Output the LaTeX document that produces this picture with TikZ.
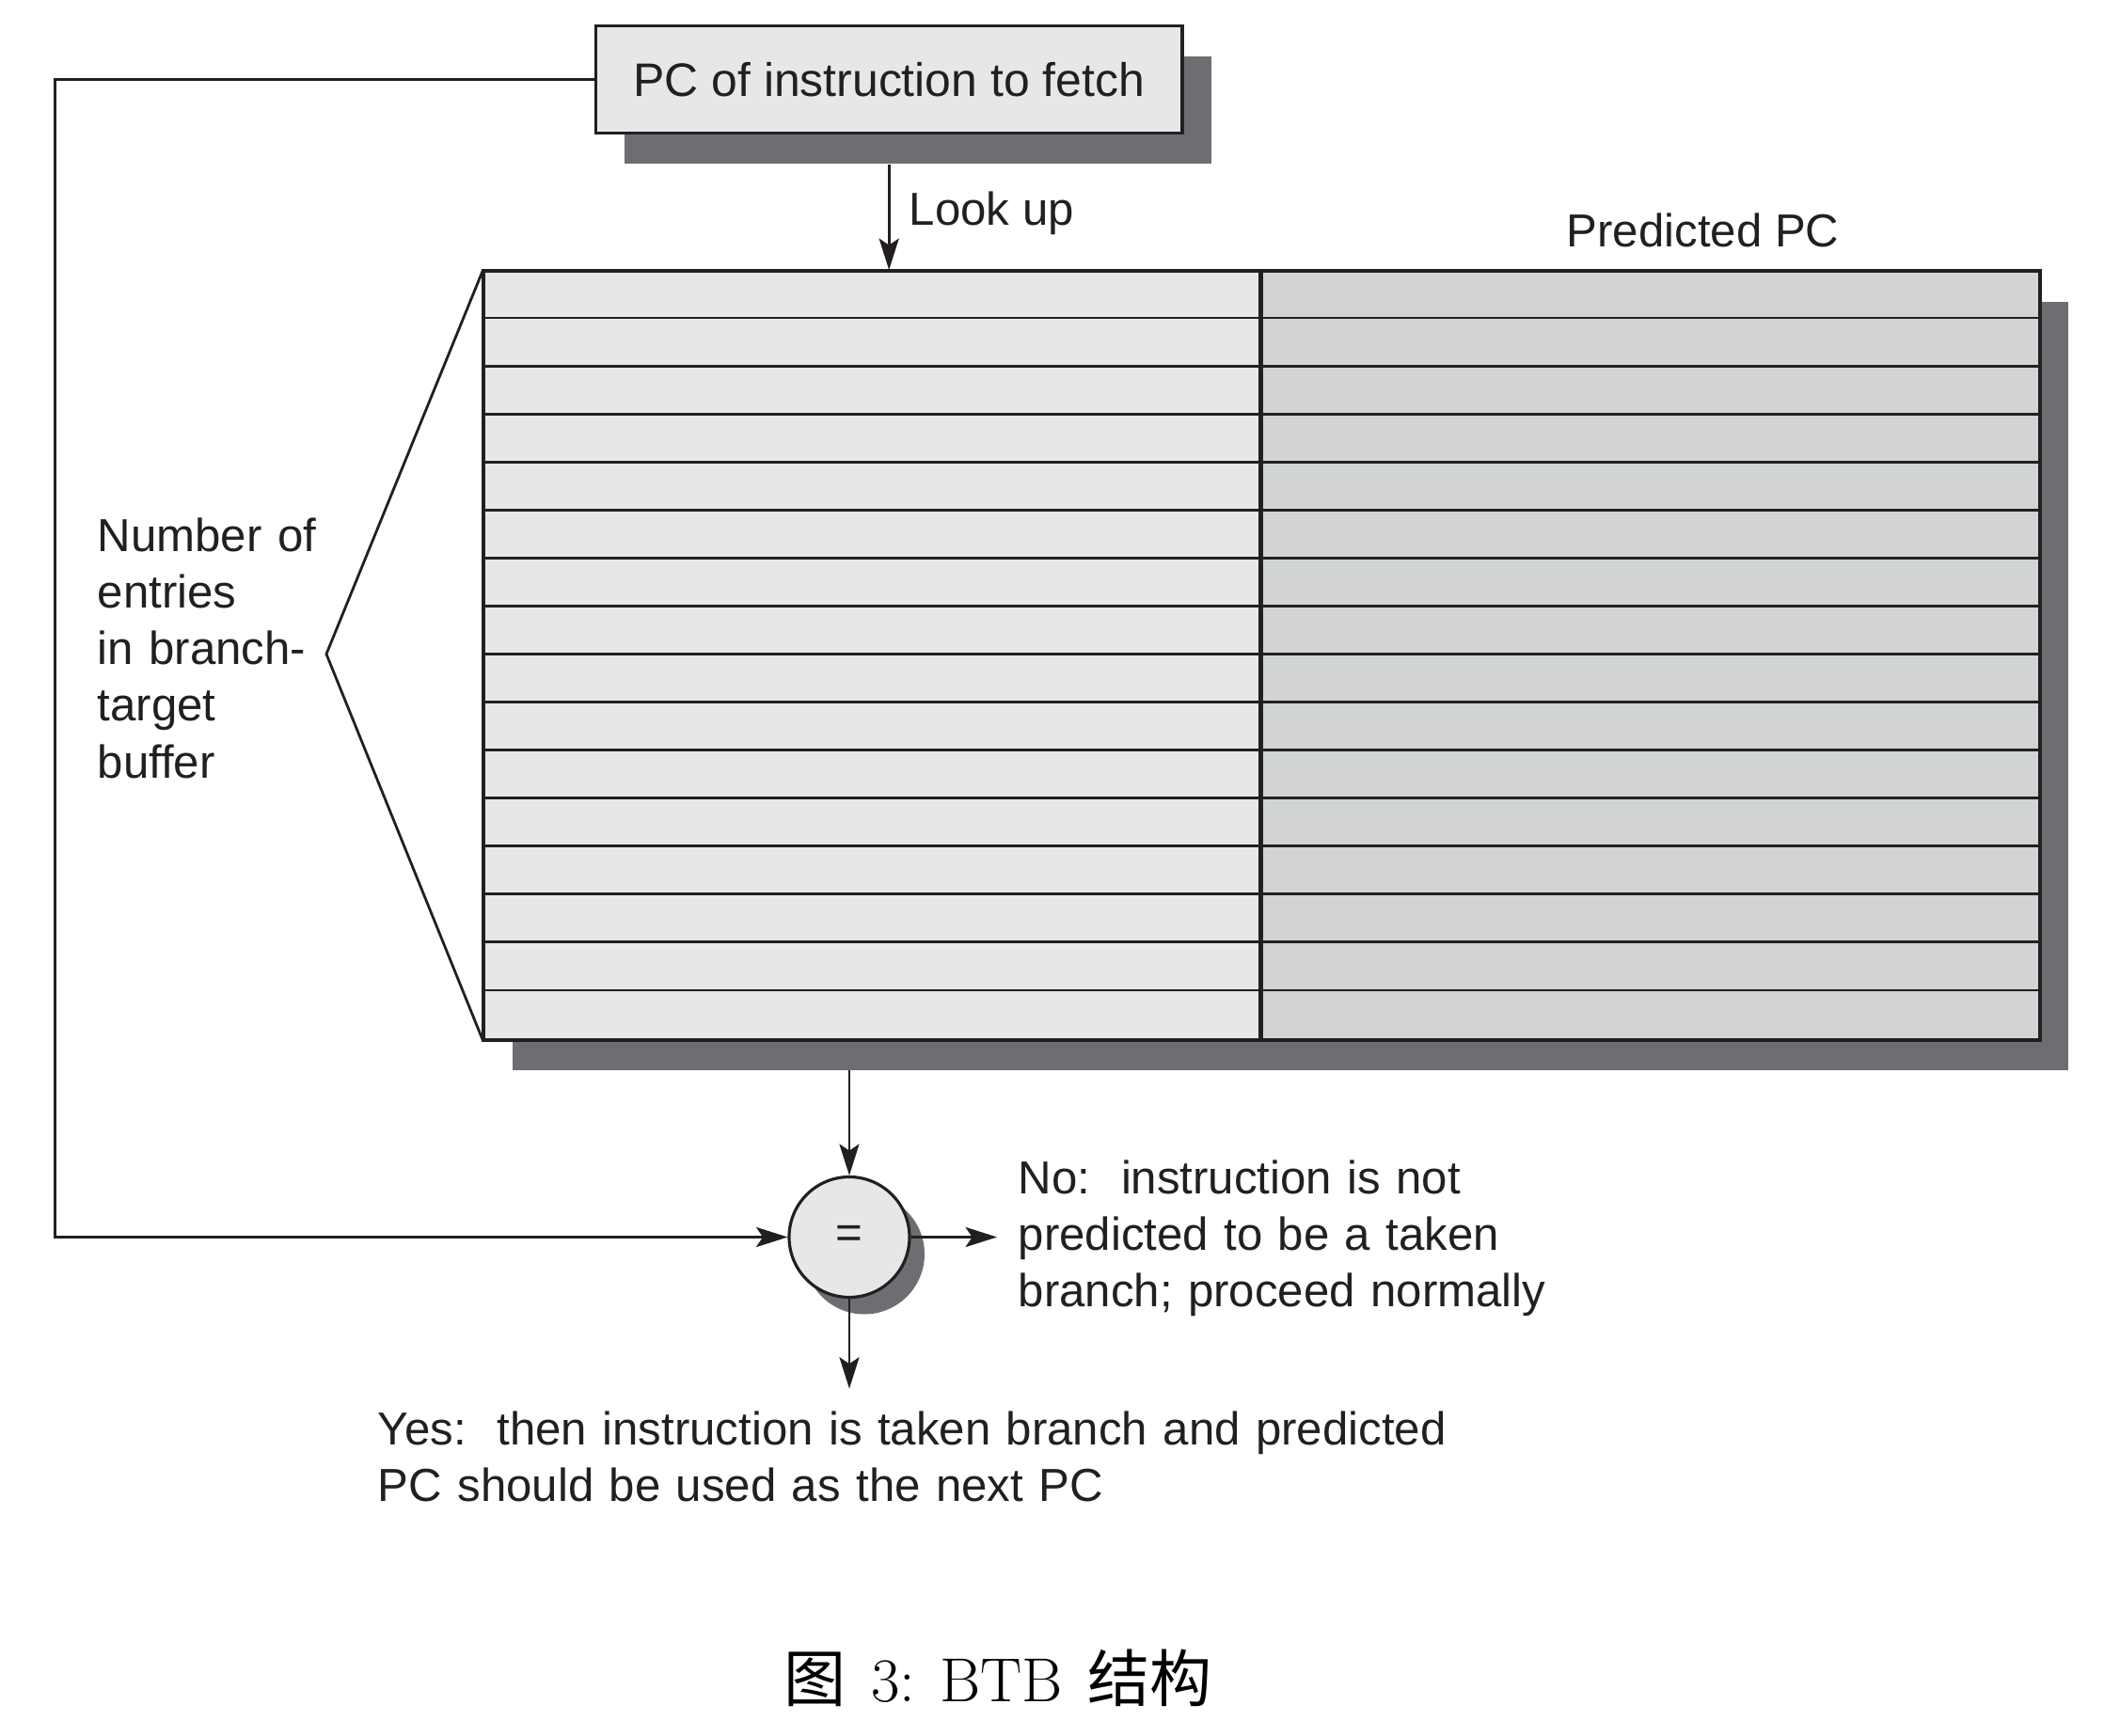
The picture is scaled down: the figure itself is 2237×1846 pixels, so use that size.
\documentclass[tikz,border=0pt]{standalone}
\usepackage{fontspec}
\setsansfont{Liberation Sans}
\newfontfamily\cjk{Noto Sans CJK SC}
\usetikzlibrary{arrows.meta}
\definecolor{lightfill}{HTML}{E6E7E8}
\definecolor{darkfill}{HTML}{D1D3D4}
\definecolor{shadowgray}{HTML}{6D6E71}
\definecolor{ink}{HTML}{231F20}
\begin{document}
\begin{tikzpicture}[x=0.1mm,y=-0.1mm,
  lbl/.style={font=\sffamily\fontsize{14}{17.1}\selectfont, text=ink, inner sep=0pt},
  conn/.style={draw=ink, line width=0.8pt, -{Stealth[length=9.5pt,width=6pt,inset=2pt]}},
  plainline/.style={draw=ink, line width=0.8pt},
  shadowbox/.style={fill=shadowgray, draw=none, inner sep=0pt, rectangle},
  pcbox/.style={draw=ink, fill=lightfill, line width=0.9pt, inner sep=0pt, rectangle,
    minimum width=62.35mm, minimum height=11.4mm, font=\sffamily\fontsize{14.2}{17.1}\selectfont, text=ink},
  colbox/.style={fill=#1, draw=ink, line width=0.8pt, inner sep=0pt, rectangle, anchor=north west, minimum height=81.7mm}
]
\useasboundingbox (0,0) rectangle (2237,1846);

% PC box with shadow
\node[shadowbox, minimum width=62.35mm, minimum height=11.4mm] (pcshadow) at (976.2,117.2) {};
\node[pcbox] (pc) at (945.2,84.2) {PC of instruction to fetch};

% table shadow
\node[shadowbox, anchor=north west, minimum width=165.4mm, minimum height=81.7mm] (tblshadow) at (544.6,320) {};
% table columns
\node[colbox=lightfill, minimum width=82.61mm] (tblL) at (513.6,287) {};
\node[colbox=darkfill, minimum width=82.75mm] (tblR) at (1339.7,287) {};
\foreach \i in {1,...,15} {
  \draw[plainline] (513.6,{287+\i*51.0625}) -- (2167.2,{287+\i*51.0625});
}
\draw[plainline] (tblL.north west) rectangle (tblR.south east);
\draw[plainline] (tblR.north west) -- (tblR.south west);

% labels
\node[lbl, anchor=base west] (lookup) at (966,239.5) {Look up};
\node[lbl, anchor=base] (predpc) at (1810.5,262.4) {Predicted PC};

% bracket
\coordinate (brtip) at (347,695.5);
\draw[plainline] (tblL.north west) -- (brtip) -- (tblL.south west);
\node[lbl, anchor=base west, text width=35mm, align=left] (entries) at (103,586.7)
  {Number of\\entries\\in branch-\\target\\buffer};

% comparator
\node[circle, fill=shadowgray, minimum size=12.8mm, inner sep=0pt] (cmpshadow) at (919,1333.5) {};
\node[circle, draw=ink, fill=lightfill, line width=0.9pt, minimum size=12.8mm, inner sep=0pt,
  font=\sffamily\fontsize{14}{17.1}\selectfont, text=ink] (cmp) at (903,1315.5) {=};

% connectors
\draw[conn] (pc.south |- pcshadow.south) -- (pc.south |- tblL.north);
\draw[conn] (cmp.north |- tblshadow.south) -- (cmp.north);
\coordinate (loopx) at (58.5,0);
\draw[conn] (pc.west) -- (pc.west -| loopx) -- (cmp.west -| loopx) -- (cmp.west);
\coordinate (noend) at (1060,1315.5);
\draw[conn] (cmp.east) -- (noend);
\coordinate (yesend) at (903,1476.6);
\draw[conn] (cmp.south) -- (yesend);

\node[lbl, anchor=base west, text width=60mm, align=left] (nolbl) at (1082,1269.6)
  {No:\ \ instruction is not\\predicted to be a taken\\branch; proceed normally};
\node[lbl, anchor=base west, text width=130mm, align=left] (yeslbl) at (401,1536.6)
  {Yes:\ \ then instruction is taken branch and predicted\\PC should be used as the next PC};

% caption
\node[anchor=base, inner sep=0pt, font=\fontsize{18.8}{22}\selectfont] (caption) at (1061,1809)
  {{\cjk 图}\hspace{0.4em}3:\hspace{0.4em}BTB\hspace{0.4em}{\cjk 结构}};
\end{tikzpicture}
\end{document}
